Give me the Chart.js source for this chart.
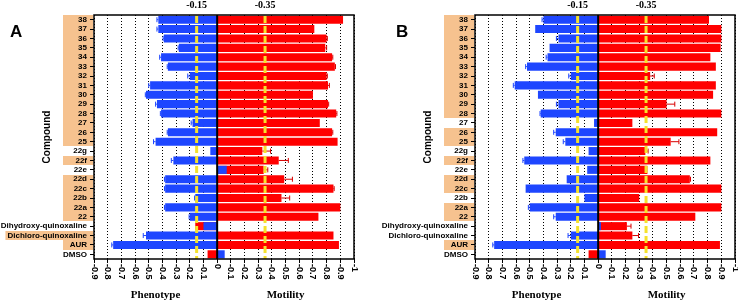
<!DOCTYPE html>
<html><head><meta charset="utf-8">
<script src="https://cdn.jsdelivr.net/npm/chart.js@4.4.1/dist/chart.umd.min.js"></script>
<style>
html,body{margin:0;padding:0;background:#fff;overflow:hidden}
#wrap{position:relative;width:738px;height:301px;background:#fff}
.p{position:absolute;top:0;height:301px;width:369px}
canvas{display:block}
</style></head>
<body><div id="wrap">
<div class="p" style="left:0"><canvas id="cA" width="369" height="301"></canvas></div>
<div class="p" style="left:369px"><canvas id="cB" width="369" height="301"></canvas></div>
</div>
<script>
// ---------- data ----------
const categories = ['38','37','36','35','34','33','32','31','30','29','28','27','26','25',
  '22g','22f','22e','22d','22c','22b','22a','22','Dihydroxy-quinoxaline','Dichloro-quinoxaline','AUR','DMSO'];

const xTickLabels = ['-0.9','-0.8','-0.7','-0.6','-0.5','-0.4','-0.3','-0.2','-0.1','0',
  '-0.1','-0.2','-0.3','-0.4','-0.5','-0.6','-0.7','-0.8','-0.9','-1'];

const phenotypeThreshold = -0.15;
const motilityThreshold = -0.35;
const thresholdLabels = ['-0.15', '-0.35'];

// Panel A
const phenotypeA = [-0.43,-0.43,-0.39,-0.28,-0.41,-0.36,-0.20,-0.49,-0.52,-0.44,-0.41,-0.18,-0.36,-0.45,
  -0.05,-0.32,0.07,-0.38,-0.38,-0.16,-0.38,-0.20,-0.10,-0.52,-0.76,0.055];
const motilityA = [-0.92,-0.71,-0.80,-0.79,-0.84,-0.86,-0.80,-0.81,-0.70,-0.81,-0.87,-0.75,-0.84,-0.88,
  -0.33,-0.45,-0.34,-0.49,-0.85,-0.47,-0.90,-0.74,0.16,-0.85,-0.89,0.07];
const phenotypeErrA = [0.01,0.01,0.005,0.005,0.01,0.005,0.015,0.01,0.005,0.01,0.005,0.01,0.005,0.015,
  0,0.015,0,0.005,0.005,0.005,0.005,0.005,0,0.02,0.01,0];
const motilityErrA = [0,0,0.005,0.01,0.005,0.005,0.005,0.01,0,0.005,0.005,0,0.005,0,
  0.06,0.07,0.03,0.06,0.005,0.06,0,0,0,0,0,0];
const highlightA = ['38','37','36','35','34','33','32','31','30','29','28','27','26','25',
  '22f','22d','22c','22b','22a','22','Dichloro-quinoxaline','AUR'];

// Panel B
const phenotypeB = [-0.40,-0.46,-0.29,-0.355,-0.37,-0.52,-0.20,-0.61,-0.44,-0.29,-0.42,-0.03,-0.31,-0.24,
  -0.07,-0.54,-0.08,-0.23,-0.53,-0.10,-0.50,-0.31,0.02,-0.20,-0.76,0.055];
const motilityB = [-0.81,-0.90,-0.90,-0.895,-0.82,-0.86,-0.38,-0.86,-0.84,-0.50,-0.90,-0.25,-0.87,-0.53,
  -0.345,-0.82,-0.36,-0.67,-0.90,-0.30,-0.90,-0.71,-0.21,-0.25,-0.89,0.07];
const phenotypeErrB = [0.01,0,0.015,0,0.01,0.01,0.015,0.01,0,0.015,0.005,0,0.015,0.015,
  0,0.01,0,0,0,0,0.01,0.015,0,0.02,0.01,0];
const motilityErrB = [0,0,0,0,0,0,0.03,0,0,0.06,0,0,0,0.06,
  0.02,0,0,0.005,0,0,0,0,0.03,0.045,0,0];
const highlightB = ['38','37','36','35','34','33','32','31','30','29','28','26','25',
  '22f','22d','22c','22a','22','AUR'];

// ---------- styles ----------
const SANS = "'Liberation Sans', Arial, sans-serif";
const SERIF = "'Liberation Serif', 'Times New Roman', serif";
const BLUE = '#1E46FF', RED = '#FF0000', ERR_BLUE = '#1E46FF', ERR_RED = '#D80000';
const YELLOW = '#F5E22C', ORANGE = '#F6C28F';
const CANVAS_W = 369;

function makePanel(id, cfg) {
  const motilityPos = cfg.motility.map(v => -v);
  const deco = {
    id: 'deco',
    beforeDraw(chart) {
      const ctx = chart.ctx, ys = chart.scales.y, area = chart.chartArea;
      const rowH = (area.bottom - area.top) / categories.length;
      ctx.save();
      ctx.font = 'bold 8px ' + SANS;
      ctx.fillStyle = ORANGE;
      cfg.highlight.forEach(name => {
        const i = categories.indexOf(name);
        const yc = ys.getPixelForValue(i);
        const tw = ctx.measureText(name).width;
        const textLeft = area.left - 7 - tw;
        const left = Math.min(area.left - 31, textLeft - 2);
        const top = Math.round(yc - rowH / 2), bot = Math.round(yc + rowH / 2);
        ctx.fillRect(left, top, area.left - 1 - left, bot - top);
      });
      ctx.restore();
    },
    afterDatasetsDraw(chart) {
      const ctx = chart.ctx, xs = chart.scales.x, ys = chart.scales.y, area = chart.chartArea;
      ctx.save();
      const drawErr = (pos, errs, color) => {
        ctx.strokeStyle = color; ctx.lineWidth = 1;
        pos.forEach((v, i) => {
          if (!errs[i]) return;
          const dir = v < 0 ? -1 : 1;
          const x0 = xs.getPixelForValue(v), x1 = xs.getPixelForValue(v + dir * errs[i]);
          const yc = ys.getPixelForValue(i);
          ctx.beginPath();
          ctx.moveTo(x0, yc); ctx.lineTo(x1, yc);
          ctx.moveTo(x1, yc - 2.5); ctx.lineTo(x1, yc + 2.5);
          ctx.stroke();
        });
      };
      drawErr(motilityPos, cfg.motilityErr, ERR_RED);
      drawErr(cfg.phenotype, cfg.phenotypeErr, ERR_BLUE);
      // yellow threshold lines
      ctx.strokeStyle = YELLOW; ctx.lineWidth = 3; ctx.setLineDash([7, 3]);
      [phenotypeThreshold, -motilityThreshold].forEach(v => {
        const x = xs.getPixelForValue(v);
        ctx.beginPath(); ctx.moveTo(x, area.top + 1); ctx.lineTo(x, area.bottom); ctx.stroke();
      });
      ctx.setLineDash([]);
      // zero line
      const x0 = xs.getPixelForValue(0);
      ctx.strokeStyle = '#000'; ctx.lineWidth = 2;
      ctx.beginPath(); ctx.moveTo(x0, area.top); ctx.lineTo(x0, area.bottom); ctx.stroke();
      // frame
      ctx.lineWidth = 1.5;
      ctx.strokeRect(area.left, area.top, area.right - area.left, area.bottom - area.top);
      ctx.restore();
    },
    afterDraw(chart) {
      const ctx = chart.ctx, xs = chart.scales.x, area = chart.chartArea;
      ctx.save();
      ctx.fillStyle = '#000';
      // x tick labels, rotated
      ctx.font = 'bold 9px ' + SANS;
      ctx.textAlign = 'left'; ctx.textBaseline = 'middle';
      xs.ticks.forEach((t, i) => {
        const x = xs.getPixelForTick(i);
        ctx.save();
        ctx.translate(x, area.bottom + 5);
        ctx.rotate(Math.PI / 2);
        ctx.fillText(xTickLabels[i], 0, 0);
        ctx.restore();
      });
      const x0 = xs.getPixelForValue(0);
      // axis titles
      ctx.font = 'bold 11px ' + SERIF;
      ctx.textAlign = 'center'; ctx.textBaseline = 'middle';
      ctx.fillText('Phenotype', (area.left + x0) / 2, 295);
      ctx.fillText('Motility', (x0 + area.right) / 2, 295);
      // threshold labels
      ctx.font = 'bold 10px ' + SERIF;
      ctx.fillText(thresholdLabels[0], xs.getPixelForValue(phenotypeThreshold), 5);
      ctx.fillText(thresholdLabels[1], xs.getPixelForValue(-motilityThreshold), 5);
      // y title
      ctx.save();
      ctx.translate(area.left - 47, (area.top + area.bottom) / 2);
      ctx.rotate(-Math.PI / 2);
      ctx.font = 'bold 10px ' + SANS;
      ctx.fillText('Compound', 0, 0);
      ctx.restore();
      // panel letter
      ctx.font = 'bold 17px ' + SANS;
      ctx.textAlign = 'left'; ctx.textBaseline = 'alphabetic';
      ctx.fillText(cfg.letter, cfg.letterX, 37);
      ctx.restore();
    }
  };

  return new Chart(document.getElementById(id), {
    type: 'bar',
    data: {
      labels: categories,
      datasets: [
        { label: 'Phenotype', data: cfg.phenotype, backgroundColor: BLUE, grouped: false,
          barPercentage: 0.86, categoryPercentage: 1, borderWidth: 0 },
        { label: 'Motility', data: motilityPos, backgroundColor: RED, grouped: false,
          barPercentage: 0.86, categoryPercentage: 1, borderWidth: 0 }
      ]
    },
    options: {
      indexAxis: 'y', responsive: false, animation: false, devicePixelRatio: 1,
      layout: { padding: { left: 0, right: CANVAS_W - cfg.plotRight, top: 15, bottom: 0 } },
      plugins: { legend: { display: false }, tooltip: { enabled: false }, title: { display: false } },
      scales: {
        x: {
          type: 'linear', min: -0.9, max: 1,
          ticks: { display: false, stepSize: 0.1 },
          grid: {
            color: c => (c.tick && Math.abs(c.tick.value) < 1e-9) ? 'rgba(0,0,0,0)' : '#000',
            lineWidth: 1, drawTicks: true, tickLength: 4, tickColor: '#000', tickWidth: 1
          },
          border: { display: false, dash: [1, 2] },
          afterFit: s => { s.height = 42; }
        },
        y: {
          type: 'category', offset: true,
          ticks: { color: '#000', font: { family: SANS, size: 8, weight: 'bold' }, padding: 3, autoSkip: false },
          grid: { offset: false, drawOnChartArea: false, drawTicks: true, tickLength: 4, tickColor: '#000', tickWidth: 1 },
          border: { display: false },
          afterFit: s => { s.width = cfg.plotLeft; }
        }
      }
    },
    plugins: [deco]
  });
}

makePanel('cA', { phenotype: phenotypeA, motility: motilityA, phenotypeErr: phenotypeErrA, motilityErr: motilityErrA,
  highlight: highlightA, plotLeft: 94, plotRight: 354, letter: 'A', letterX: 10 });
makePanel('cB', { phenotype: phenotypeB, motility: motilityB, phenotypeErr: phenotypeErrB, motilityErr: motilityErrB,
  highlight: highlightB, plotLeft: 106, plotRight: 366, letter: 'B', letterX: 27 });
</script>
</body></html>
